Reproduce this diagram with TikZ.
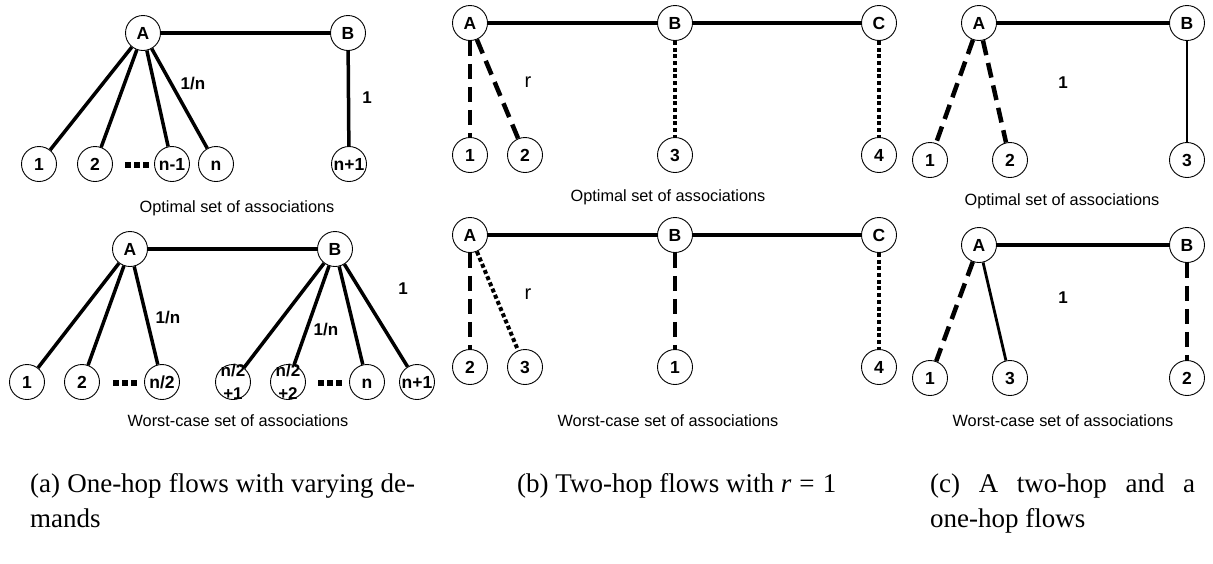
\documentclass[tikz,border=0pt]{standalone}
\usepackage{fontspec}
\setmainfont{Liberation Serif}
\setsansfont{Liberation Sans}
\begin{document}
\begin{tikzpicture}[x=1pt,y=-1pt,
 nd/.style={circle,draw,line width=0.9pt,minimum size=35pt,inner sep=0pt,text height=12.5pt,text depth=0pt,font=\sffamily\bfseries\fontsize{17.5}{19}\selectfont},
 twol/.style={align=center,inner sep=0pt,font=\sffamily\bfseries\fontsize{17}{23}\selectfont},
 lbl/.style={font=\sffamily\bfseries\fontsize{17}{19}\selectfont,inner sep=0pt},
 rlbl/.style={font=\sffamily\fontsize{20}{22}\selectfont,inner sep=0pt},
 captxt/.style={font=\sffamily\fontsize{16.3}{18}\selectfont,inner sep=0pt},
 sub/.style={font=\fontsize{27}{31}\selectfont,inner sep=0pt,anchor=base west},
 bb/.style={line width=4pt},
 sl/.style={line width=3.5pt},
 thn/.style={line width=2.8pt},
 dsh/.style={line width=4.5pt,dash pattern=on 15pt off 8pt},
 dtt/.style={line width=4pt,dash pattern=on 4pt off 2.7pt},
 dotsq/.style={fill=black,minimum size=6pt,inner sep=0pt}
]
\useasboundingbox (0,0) rectangle (1213,563);

% ---------- (a) top ----------
\node[nd] (aA) at (143,33) {A};
\node[nd] (aB) at (348,33) {B};
\node[nd] (a1) at (39,164) {1};
\node[nd] (a2) at (95,164) {2};
\node[nd] (an1) at (172,164) {n-1};
\node[nd] (an) at (216,164) {n};
\node[nd] (anp) at (349,164) {n+1};
\foreach \x in {128,137,146} \node[dotsq] at (\x,165) {};
\draw[bb] (aA) -- (aB);
\draw[sl] (aA) -- (a1);
\draw[sl] (aA) -- (a2);
\draw[sl] (aA) -- (an1);
\draw[sl] (aA) -- (an);
\draw[sl] (aB) -- (anp);
\node[lbl] (aL1) at (193,84) {1/n};
\node[lbl] (aL2) at (367,98) {1};
\node[captxt] (aC1) at (237,208) {Optimal set of associations};

% ---------- (a) bottom ----------
\node[nd] (bA) at (130,249) {A};
\node[nd] (bB) at (335,249) {B};
\node[nd] (b1) at (27,382) {1};
\node[nd] (b2) at (82,382) {2};
\node[nd] (bh) at (162,382) {n/2};
\node[nd] (bh1) at (233,382) {};
\node[twol] at (bh1) {n/2\\+1};
\node[nd] (bh2) at (288,382) {};
\node[twol] at (bh2) {n/2\\+2};
\node[nd] (bn) at (367,382) {n};
\node[nd] (bnp) at (417,382) {n+1};
\foreach \x in {116,125,134} \node[dotsq] at (\x,383) {};
\foreach \x in {321,330,339} \node[dotsq] at (\x,383) {};
\draw[bb] (bA) -- (bB);
\draw[sl] (bA) -- (b1);
\draw[sl] (bA) -- (b2);
\draw[sl] (bA) -- (bh);
\draw[sl] (bB) -- (bh1);
\draw[sl] (bB) -- (bh2);
\draw[sl] (bB) -- (bn);
\draw[sl] (bB) -- (bnp);
\node[lbl] (bL1) at (168,318) {1/n};
\node[lbl] (bL2) at (326,330) {1/n};
\node[lbl] (bL3) at (403,289) {1};
\node[captxt] (bC1) at (238,421) {Worst-case set of associations};

% ---------- (b) top ----------
\node[nd] (cA) at (470,23) {A};
\node[nd] (cB) at (675,23) {B};
\node[nd] (cC) at (879,23) {C};
\node[nd] (c1) at (470,155) {1};
\node[nd] (c2) at (525,155) {2};
\node[nd] (c3) at (675,155) {3};
\node[nd] (c4) at (879,155) {4};
\draw[bb] (cA) -- (cB);
\draw[bb] (cB) -- (cC);
\draw[dsh] (cA) -- (c1);
\draw[dsh] (cA) -- (c2);
\draw[dtt] (cB) -- (c3);
\draw[dtt] (cC) -- (c4);
\node[rlbl] (cL) at (528,82) {r};
\node[captxt] (cC1) at (668,197) {Optimal set of associations};

% ---------- (b) bottom ----------
\node[nd] (dA) at (470,235) {A};
\node[nd] (dB) at (675,235) {B};
\node[nd] (dC) at (879,235) {C};
\node[nd] (d2) at (470,367) {2};
\node[nd] (d3) at (525,367) {3};
\node[nd] (d1) at (675,367) {1};
\node[nd] (d4) at (879,367) {4};
\draw[bb] (dA) -- (dB);
\draw[bb] (dB) -- (dC);
\draw[dsh] (dA) -- (d2);
\draw[dtt] (dA) -- (d3);
\draw[dsh] (dB) -- (d1);
\draw[dtt] (dC) -- (d4);
\node[rlbl] (dL) at (528,294) {r};
\node[captxt] (dC1) at (668,421) {Worst-case set of associations};

% ---------- (c) top ----------
\node[nd] (eA) at (979,23) {A};
\node[nd] (eB) at (1187,23) {B};
\node[nd] (e1) at (930,160) {1};
\node[nd] (e2) at (1010,160) {2};
\node[nd] (e3) at (1187,160) {3};
\draw[bb] (eA) -- (eB);
\draw[dsh] (eA) -- (e1);
\draw[dsh] (eA) -- (e2);
\draw[thn] (eB) -- (e3);
\node[lbl] (eL) at (1063,83) {1};
\node[captxt] (eC1) at (1062,201) {Optimal set of associations};

% ---------- (c) bottom ----------
\node[nd] (fA) at (979,245) {A};
\node[nd] (fB) at (1187,245) {B};
\node[nd] (f1) at (930,378) {1};
\node[nd] (f3) at (1010,378) {3};
\node[nd] (f2) at (1187,378) {2};
\draw[bb] (fA) -- (fB);
\draw[dsh] (fA) -- (f1);
\draw[thn] (fA) -- (f3);
\draw[dsh] (fB) -- (f2);
\node[lbl] (fL) at (1063,298) {1};
\node[captxt] (fC1) at (1063,421) {Worst-case set of associations};

% ---------- sub-captions ----------
\node[sub] (sa1) at (30,492) {\makebox[385pt][s]{(a) One-hop flows with varying de-}};
\node[sub] (sa2) at (30,527) {mands};
\node[sub] (sb) at (517,492) {(b) Two-hop flows with \textit{r}\hspace{0.05em} = \hspace{0.05em}1};
\node[sub] (sc1) at (930,492) {\makebox[265pt][s]{(c) A two-hop and a}};
\node[sub] (sc2) at (930,527) {one-hop flows};
\end{tikzpicture}
\end{document}
